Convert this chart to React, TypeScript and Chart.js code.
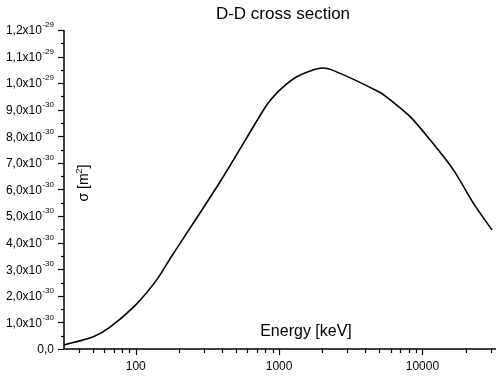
import React, { useEffect, useRef } from "react";
import { Chart, registerables } from "chart.js";

Chart.register(...registerables);

const energyKeV = [31.6, 50.6, 66.2, 100, 140, 178.5, 388, 778, 866, 1050, 1330, 1931, 2333, 5070, 5960, 8210, 11330, 16480, 22700, 30550];
const sigmaE30 = [0.15, 0.46, 0.82, 1.66, 2.6, 3.5, 6.29, 8.99, 9.35, 9.82, 10.24, 10.56, 10.5, 9.65, 9.37, 8.74, 7.86, 6.73, 5.48, 4.48];

const xMajorTicks = [100, 1000, 10000];
const yMajorTicksE30 = [0, 1, 2, 3, 4, 5, 6, 7, 8, 9, 10, 11, 12];

const titleText = "D-D cross section";
const xTitle = "Energy [keV]";
const FONT = "Arial, 'Liberation Sans', sans-serif";

function yLabelParts(v: number): [string, string] {
  if (v === 0) return ["0,0", ""];
  if (v >= 10) {
    const m = (v / 10).toFixed(1).replace(".", ",");
    return [m + "x10", "-29"];
  }
  return [v.toFixed(1).replace(".", ",") + "x10", "-30"];
}

const axesPlugin = {
  id: "customAxes",
  afterDraw(chart: any) {
    const ctx = chart.ctx as CanvasRenderingContext2D;
    const xs = chart.scales.x;
    const ys = chart.scales.y;
    const area = chart.chartArea;
    ctx.save();
    ctx.strokeStyle = "#000";
    ctx.fillStyle = "#000";
    ctx.lineWidth = 1.5;
    ctx.beginPath();
    ctx.moveTo(area.left, area.top);
    ctx.lineTo(area.left, area.bottom);
    ctx.lineTo(area.right, area.bottom);
    ctx.stroke();

    ctx.lineWidth = 1.2;
    for (let v = 0; v <= 12.001; v += 0.5) {
      const py = Math.round(ys.getPixelForValue(v * 1e-30)) + 0.5;
      const major = Math.abs(v - Math.round(v)) < 1e-6;
      ctx.beginPath();
      ctx.moveTo(area.left, py);
      ctx.lineTo(area.left - (major ? 6 : 3), py);
      ctx.stroke();
    }
    ctx.textBaseline = "middle";
    for (const v of yMajorTicksE30) {
      const py = ys.getPixelForValue(v * 1e-30);
      const [main, sup] = yLabelParts(v);
      const rightEdge = 54;
      ctx.font = `8px ${FONT}`;
      const supW = sup ? ctx.measureText(sup).width : 0;
      if (sup) {
        ctx.textAlign = "right";
        ctx.fillText(sup, rightEdge, py - 5);
      }
      ctx.font = `12px ${FONT}`;
      ctx.textAlign = "right";
      ctx.fillText(main, rightEdge - supW - (sup ? 0.5 : 0), py + 1);
    }

    const xmin = xs.min;
    const xmax = xs.max;
    for (let d = 1; d <= 4; d++) {
      for (let k = 1; k <= 9; k++) {
        const v = k * Math.pow(10, d);
        if (v < xmin || v > xmax) continue;
        const px = Math.round(xs.getPixelForValue(v)) + 0.5;
        const major = k === 1;
        ctx.beginPath();
        ctx.moveTo(px, area.bottom);
        ctx.lineTo(px, area.bottom + (major ? 6 : 4));
        ctx.stroke();
      }
    }
    ctx.font = `12px ${FONT}`;
    ctx.textAlign = "center";
    ctx.textBaseline = "middle";
    for (const v of xMajorTicks) {
      const px = xs.getPixelForValue(v);
      ctx.fillText(String(v), px, 367);
    }

    ctx.font = `17px ${FONT}`;
    ctx.textAlign = "center";
    ctx.fillText(titleText, 283, 14);

    ctx.font = `16px ${FONT}`;
    ctx.fillText(xTitle, 306, 332);

    ctx.save();
    ctx.translate(84, 183);
    ctx.rotate(-Math.PI / 2);
    ctx.font = `14px ${FONT}`;
    ctx.textAlign = "left";
    const part1 = "\u03C3 [m";
    const w1 = ctx.measureText(part1).width;
    ctx.font = `9px ${FONT}`;
    const w2 = ctx.measureText("2").width;
    ctx.font = `14px ${FONT}`;
    const w3 = ctx.measureText("]").width;
    const total = w1 + w2 + w3;
    const x0 = -total / 2;
    ctx.fillText(part1, x0, 0);
    ctx.font = `9px ${FONT}`;
    ctx.fillText("2", x0 + w1, -4);
    ctx.font = `14px ${FONT}`;
    ctx.fillText("]", x0 + w1 + w2, 0);
    ctx.restore();

    ctx.restore();
  },
};

export default function App() {
  const ref = useRef<HTMLCanvasElement | null>(null);
  useEffect(() => {
    if (!ref.current) return;
    const data = energyKeV.map((e, i) => ({ x: e, y: sigmaE30[i] * 1e-30 }));
    const chart = new Chart(ref.current, {
      type: "line",
      data: {
        datasets: [
          {
            label: "D-D cross section",
            data,
            borderColor: "#000",
            borderWidth: 1.6,
            pointRadius: 0,
            fill: false,
            tension: 0.3,
          },
        ],
      },
      options: {
        responsive: false,
        animation: false,
        layout: { padding: { left: 64, top: 30, right: 4, bottom: 29 } },
        plugins: { legend: { display: false }, tooltip: { enabled: false }, title: { display: false } },
        scales: {
          x: { type: "logarithmic", min: 31.6, max: 32600, display: false },
          y: { type: "linear", min: 0, max: 1.2e-29, display: false },
        },
      },
      plugins: [axesPlugin],
    } as any);
    return () => chart.destroy();
  }, []);
  return (
    <div style={{ position: "fixed", left: 0, top: 0, width: 500, height: 378, background: "#fff" }}>
      <canvas ref={ref} width={500} height={378} style={{ width: 500, height: 378, display: "block" }} />
    </div>
  );
}
